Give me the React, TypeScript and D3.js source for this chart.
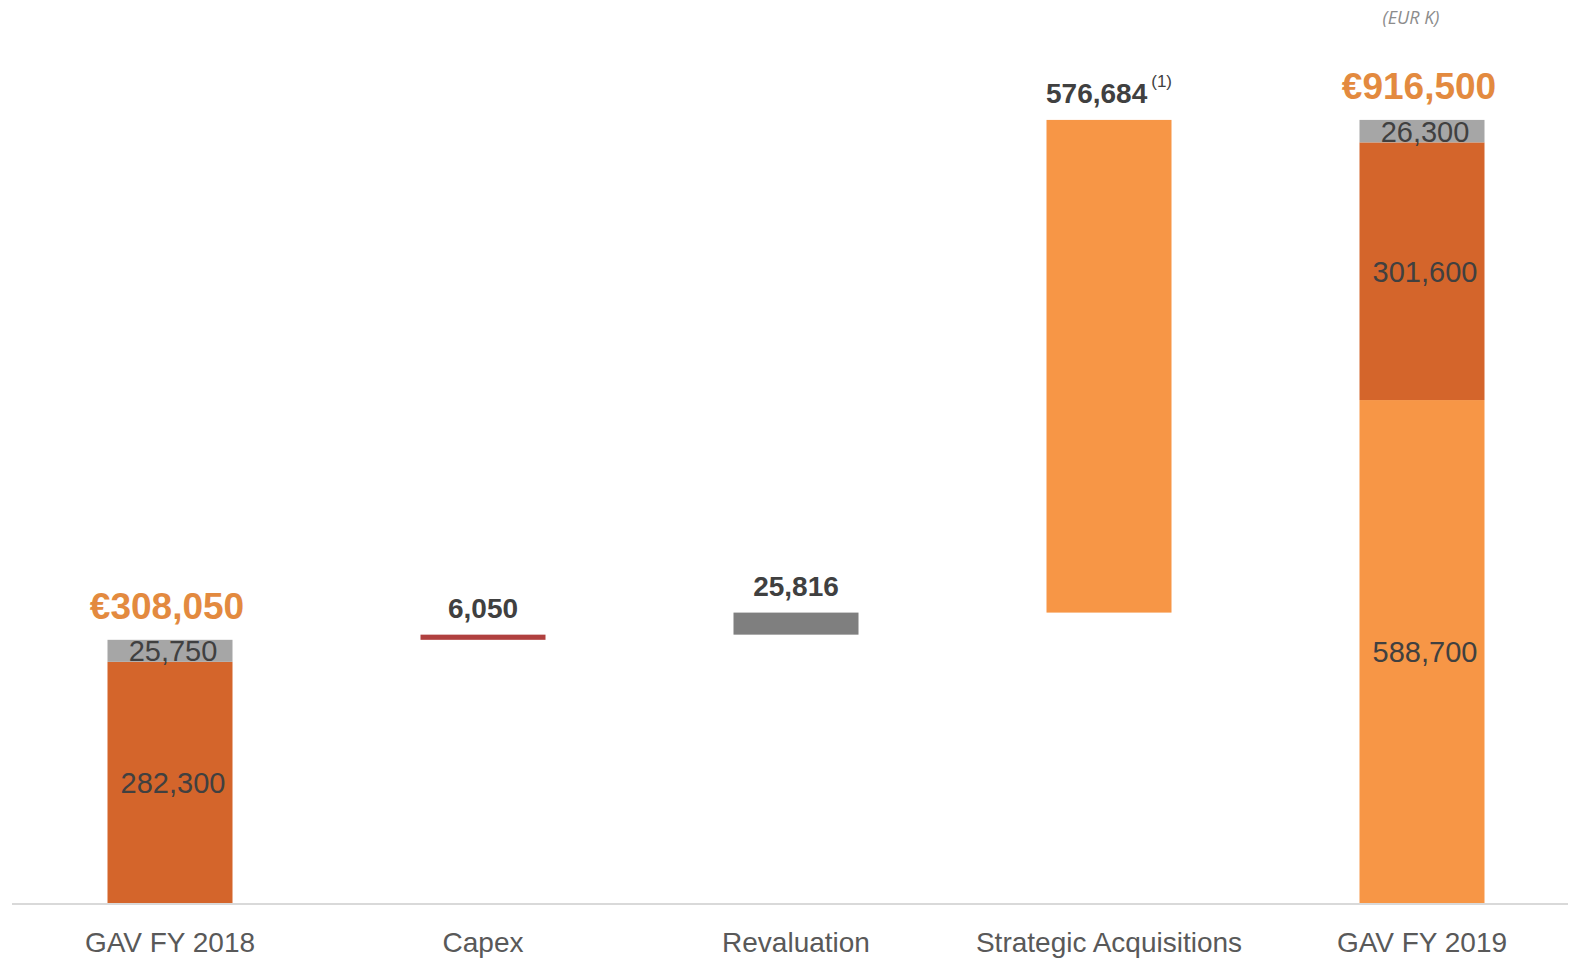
import React, { useEffect, useRef } from "react";
import * as d3 from "d3";

const categories = ["GAV FY 2018", "Capex", "Revaluation", "Strategic Acquisitions", "GAV FY 2019"];
// stacked totals (bottom to top)
const gav2018Parts = [282300, 25750];
const gav2019Parts = [588700, 301600, 26300];
const gav2018Total = 308050;
const gav2019Total = 916500;
// waterfall steps
const stepValues = [6050, 25816, 576684];
const stepLabels = ["6,050", "25,816", "576,684"];

function App() {
  const ref = useRef<SVGSVGElement | null>(null);
  const width = 1580;
  const height = 960;
  const baseY = 903;

  useEffect(() => {
    const svg = d3.select(ref.current);
    svg.selectAll("*").remove();

    const x = d3.scalePoint<string>().domain(categories).range([170, 1422]);
    const y = d3.scaleLinear().domain([0, 916500]).range([baseY, 120]);
    const bw = 125;
    const fmt = d3.format(",");

    // axis line
    svg
      .append("line")
      .attr("x1", 12)
      .attr("x2", 1568)
      .attr("y1", baseY + 1)
      .attr("y2", baseY + 1)
      .attr("stroke", "#d9d9d9")
      .attr("stroke-width", 2);

    const drawStack = (cat: string, parts: number[], colors: string[]) => {
      let acc = 0;
      parts.forEach((v, i) => {
        const y0 = y(acc);
        const y1 = y(acc + v);
        svg
          .append("rect")
          .attr("x", (x(cat) as number) - bw / 2)
          .attr("y", y1)
          .attr("width", bw)
          .attr("height", y0 - y1)
          .attr("fill", colors[i]);
        acc += v;
      });
      acc = 0;
      parts.forEach((v) => {
        const mid = (y(acc) + y(acc + v)) / 2;
        svg
          .append("text")
          .attr("x", (x(cat) as number) + 3)
          .attr("y", mid)
          .attr("dy", "0.36em")
          .attr("text-anchor", "middle")
          .attr("font-family", "Liberation Sans, Arial, sans-serif")
          .attr("font-size", 29)
          .attr("fill", "#404040")
          .text(fmt(v));
        acc += v;
      });
    };

    drawStack(categories[0], gav2018Parts, ["#d4652b", "#a6a6a6"]);
    drawStack(categories[4], gav2019Parts, ["#f79646", "#d4652b", "#a6a6a6"]);

    // waterfall steps
    const stepColors = ["#b0403f", "#7f7f7f", "#f79646"];
    let level = gav2018Total;
    stepValues.forEach((v, i) => {
      const cat = categories[i + 1];
      const yTop = y(level + v);
      const yBot = y(level);
      svg
        .append("rect")
        .attr("x", (x(cat) as number) - bw / 2)
        .attr("y", yTop)
        .attr("width", bw)
        .attr("height", Math.max(yBot - yTop, 4))
        .attr("fill", stepColors[i]);
      const t = svg
        .append("text")
        .attr("x", x(cat) as number)
        .attr("y", yTop - 17)
        .attr("text-anchor", "middle")
        .attr("font-family", "Liberation Sans, Arial, sans-serif")
        .attr("font-size", 28)
        .attr("font-weight", "bold")
        .attr("fill", "#404040")
        .text(stepLabels[i]);
      if (i === 2) {
        t.append("tspan")
          .attr("font-size", 17)
          .attr("font-weight", "normal")
          .attr("dx", 4)
          .attr("dy", -16)
          .text("(1)");
      }
      level += v;
    });

    // totals
    [
      [categories[0], gav2018Total],
      [categories[4], gav2019Total],
    ].forEach(([cat, v]) => {
      svg
        .append("text")
        .attr("x", (x(cat as string) as number) - 3)
        .attr("y", y(v as number) - 21)
        .attr("text-anchor", "middle")
        .attr("font-family", "Liberation Sans, Arial, sans-serif")
        .attr("font-size", 37)
        .attr("font-weight", "bold")
        .attr("fill", "#e38a3f")
        .text("€" + fmt(v as number));
    });

    // category labels
    svg
      .append("g")
      .selectAll("text")
      .data(categories)
      .join("text")
      .attr("x", (d) => x(d) as number)
      .attr("y", 952)
      .attr("text-anchor", "middle")
      .attr("font-family", "Liberation Sans, Arial, sans-serif")
      .attr("font-size", 28)
      .attr("fill", "#595959")
      .text((d) => d);

    // unit note
    svg
      .append("text")
      .attr("x", 1411)
      .attr("y", 24)
      .attr("text-anchor", "middle")
      .attr("font-family", "Open Sans, sans-serif")
      .attr("font-style", "italic")
      .attr("font-size", 18)
      .attr("fill", "#8c8c8c")
      .text("(EUR K)");
  }, []);

  return (
    <svg
      ref={ref}
      width={width}
      height={height}
      viewBox={`0 0 ${width} ${height}`}
      style={{ position: "fixed", left: 0, top: 0, background: "#fff" }}
    ></svg>
  );
}

export default App;
